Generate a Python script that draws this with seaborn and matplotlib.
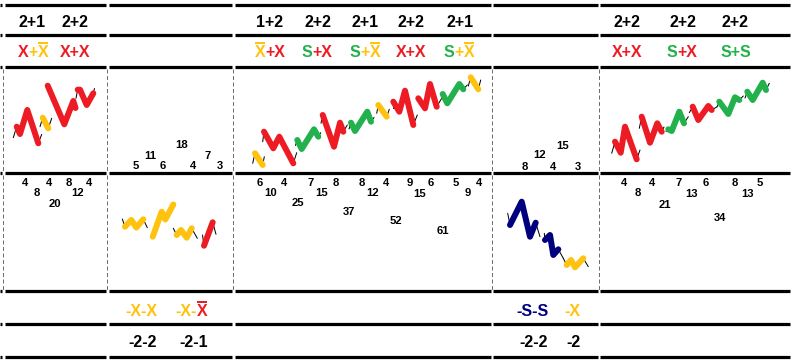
import matplotlib
matplotlib.use("Agg")
import matplotlib.pyplot as plt
import seaborn as sns
import pandas as pd

sns.set_theme(style="white")
plt.rcParams["font.family"] = ["Liberation Sans", "DejaVu Sans"]

RED = "#ED1C24"
YEL = "#FFC20E"
GRN = "#22B14C"
NAVY = "#00007F"
BLK = "#000000"

# ---------------- data ----------------
# wave shapes (pixel-space readings from the picture)
wave_colors = [
    RED, YEL, RED, RED,                      # column 1, upper
    YEL, YEL, YEL, RED,                      # column 2, lower
    YEL, RED, GRN, RED, GRN, YEL, RED, RED, GRN, YEL,   # column 3, upper
    NAVY, NAVY, YEL,                         # column 4, lower
    RED, RED, GRN, RED, GRN, GRN,            # column 5, upper
]
wave_x = [
    [16.7, 20.0, 27.3, 38.3], [42.7, 48.3], [47.7, 64.3, 73.3, 75.5], [77.7, 80.0, 86.7, 93.3],
    [125.0, 131.3, 136.3, 143.3], [152.7, 161.7, 165.3, 173.3], [176.7, 181.0, 186.7, 191.7], [204.0, 212.7],
    [255.0, 262.7], [264.0, 273.3, 279.3, 293.3], [297.3, 301.7, 314.0, 318.3],
    [322.7, 334.0, 340.0, 343.3], [351.0, 355.0, 367.3, 371.0], [378.3, 386.7],
    [393.3, 399.3, 405.0, 413.3], [418.3, 425.0, 430.0, 436.7], [442.7, 447.3, 459.3, 463.3], [470.7, 478.3],
    [510.0, 521.7, 530.0, 535.7], [545.0, 550.0, 553.3, 558.3], [566.7, 571.0, 575.0, 583.3],
    [615.0, 620.7, 625.0, 636.7], [641.7, 650.0, 657.3, 661.7], [668.3, 671.7, 679.3, 684.0],
    [692.7, 698.3, 708.3, 711.7], [719.3, 728.3, 735.0, 739.3], [747.3, 752.7, 762.7, 766.0],
]
wave_y = [
    [126.7, 134.0, 110.0, 143.3], [117.7, 128.3], [85.7, 124.3, 101.0, 108.0], [89.7, 89.7, 105.0, 93.3],
    [226.7, 220.0, 227.5, 219.3], [236.7, 211.7, 219.5, 204.5], [235.0, 230.0, 237.7, 228.3], [245.7, 222.3],
    [153.3, 165.0], [131.7, 148.3, 136.7, 163.3], [140.0, 149.0, 129.3, 136.7],
    [115.0, 146.7, 122.7, 131.7], [122.7, 131.0, 111.7, 121.7], [105.0, 116.7],
    [101.7, 111.7, 90.7, 125.0], [98.3, 108.3, 84.0, 106.7], [94.0, 103.3, 84.0, 89.3], [77.3, 89.3],
    [225.0, 201.7, 236.7, 222.7], [240.0, 235.0, 255.0, 249.3], [265.0, 260.0, 267.3, 258.3],
    [141.7, 152.7, 126.7, 159.3], [116.7, 142.7, 123.3, 131.7], [129.3, 131.0, 111.7, 123.3],
    [106.7, 120.0, 106.0, 110.0], [101.7, 114.0, 97.3, 100.0], [91.7, 100.0, 82.7, 90.0],
]
tail_in = [
    (13.3, 137.7), (40.0, 126.7), None, (76.0, 98.3),
    (122.3, 219.0), None, (173.3, 228.3), (202.5, 235.0),
    (252.7, 163.3), (262.7, 141.7), (295.5, 145.5), (321.0, 123.3), (349.0, 129.0), (376.7, 113.3),
    (393.3, 108.3), None, None, (468.3, 86.0),
    (507.7, 213.3), (544.3, 233.3), (563.3, 258.3),
    (611.7, 153.3), (639.3, 128.3), (666.0, 131.5), (689.3, 112.7), (717.0, 107.0), (745.0, 98.0),
]
tail_out = [
    (41.7, 134.3), (51.7, 118.3), None, (94.5, 88.5),
    (147.3, 227.7), None, (197.3, 238.3), (216.0, 234.3),
    (264.3, 156.7), (296.7, 152.7), (320.7, 132.7), (347.3, 125.0), (374.0, 117.5), (389.3, 109.3),
    (417.3, 115.0), (441.7, 98.3), (467.3, 85.0), (480.7, 80.0),
    (540.0, 236.7), (563.3, 258.3), (588.3, 266.7),
    (640.0, 150.0), (664.0, 127.0), (688.3, 116.7), (716.7, 107.0), (743.3, 96.0), (769.3, 83.3),
]

# count labels
count_text = ["5", "11", "6", "18", "4", "7", "3",
              "4", "8", "4", "20", "8", "12", "4",
              "6", "10", "4", "25", "7", "15", "8", "37", "8", "12", "4", "52", "9", "15", "6", "61", "5", "9", "4",
              "8", "12", "4", "15", "3",
              "4", "8", "4", "21", "7", "13", "6", "34", "8", "13", "5"]
count_x = [136, 150, 163, 182, 193, 208, 220,
           25, 37, 49, 55, 69, 78, 89,
           260, 271, 284, 298, 311, 322, 336, 349, 362, 373, 386, 396, 410, 420, 431, 443, 456, 468, 479,
           525, 540, 553, 563, 578,
           624, 638, 652, 665, 679, 692, 706, 720, 735, 747, 760]
count_y = [165, 155, 165, 144, 165, 155, 165,
           182, 192, 182, 203, 182, 192, 182,
           182, 192, 182, 202, 182, 192, 182, 211, 182, 192, 182, 220, 182, 193, 182, 230, 182, 192, 182,
           166, 154, 166, 145, 166,
           182, 192, 182, 204, 182, 193, 182, 217, 182, 193, 182]

# header labels
top_text = ["2+1", "2+2", "1+2", "2+2", "2+1", "2+2", "2+1", "2+2", "2+2", "2+2"]
top_x = [32.2, 74.5, 269.7, 317.8, 365.5, 411.3, 459.7, 627.5, 683.3, 735.5]

bottom_text = ["-2-2", "-2-1", "-2-2", "-2"]
bottom_x = [142.3, 193.3, 533.3, 573.3]

# coloured pattern labels: pieces of (text, colour, overline)
pattern_top = [
    [("X", RED, False), ("+", YEL, False), ("X", YEL, True)],
    [("X+X", RED, False)],
    [("X", YEL, True), ("+X", RED, False)],
    [("S", GRN, False), ("+X", RED, False)],
    [("S", GRN, False), ("+", YEL, False), ("X", YEL, True)],
    [("X+X", RED, False)],
    [("S", GRN, False), ("+", YEL, False), ("X", YEL, True)],
    [("X+X", RED, False)],
    [("S", GRN, False), ("+X", RED, False)],
    [("S+S", GRN, False)],
]
pattern_top_x = [32.8, 75.0, 270.0, 317.2, 365.0, 411.3, 459.2, 626.7, 682.0, 735.5]

pattern_bottom = [
    [("-X-X", YEL, False)],
    [("-X-", YEL, False), ("X", RED, True)],
    [("-S-S", NAVY, False)],
    [("-X", YEL, False)],
]
pattern_bottom_x = [141.7, 191.5, 532.5, 572.8]

# ---------------- figure ----------------
W, H = 794, 361
fig = plt.figure(figsize=(W / 100, H / 100), dpi=100)
ax = fig.add_axes([0, 0, 1, 1])

PX = 72 / 100  # points per pixel

# grid: heavy rules and dashed column separators
col_edges = [3, 107, 233, 491.5, 598.5]
rule_y = [4.5, 35, 67, 173, 291, 324, 356.5]
seg_bounds = [(0, 1.5), (4.5, 106), (108.5, 232), (234.5, 490.5), (493, 597.5), (600, 790)]
for ry in rule_y:
    for a, b in seg_bounds:
        ax.plot([a, b], [ry, ry], color=BLK, lw=3.2 * PX, solid_capstyle="butt", zorder=3)
for cx in col_edges:
    for y0, y1 in [(68.5, 171.5), (174.5, 289.5)]:
        ax.plot([cx, cx], [y0, y1], color="#6F6F6F", lw=1 * PX,
                linestyle=(0, (4, 2.5)), zorder=2)

# waves
for c, xs, ys, tin, tout in zip(wave_colors, wave_x, wave_y, tail_in, tail_out):
    if tin is not None:
        ax.plot([tin[0], xs[0]], [tin[1], ys[0]], color=BLK, lw=1.0 * PX, zorder=4)
    if tout is not None:
        ax.plot([xs[-1], tout[0]], [ys[-1], tout[1]], color=BLK, lw=1.0 * PX, zorder=4)
    df = pd.DataFrame({"x": xs, "y": ys})
    sns.lineplot(data=df, x="x", y="y", sort=False, estimator=None, color=c,
                 lw=6.0 * PX, ax=ax, zorder=5,
                 solid_capstyle="round", solid_joinstyle="round")

BIG = 16 * PX
SMALL = 11.2 * PX

renderer = fig.canvas.get_renderer()


def pieces_text(xc, baseline, pieces, size):
    items = []
    total = 0.0
    for s, c, ov in pieces:
        t = ax.text(0, baseline, s, color=c, fontsize=size, fontweight="bold",
                    ha="left", va="baseline", zorder=6)
        w = t.get_window_extent(renderer).width
        items.append((t, w, ov, c))
        total += w
    x = xc - total / 2
    cap = 0.716 * size / PX
    for t, w, ov, c in items:
        t.set_x(x)
        if ov:
            yl = baseline - cap - 2.5
            ax.plot([x + 0.3, x + w - 0.3], [yl, yl], color=c, lw=2 * PX,
                    solid_capstyle="butt", zorder=6)
        x += w


for s, x in zip(top_text, top_x):
    ax.text(x, 26.7, s, fontsize=BIG, fontweight="bold", color=BLK,
            ha="center", va="baseline", zorder=6)
for s, x in zip(bottom_text, bottom_x):
    ax.text(x, 346.7, s, fontsize=BIG, fontweight="bold", color=BLK,
            ha="center", va="baseline", zorder=6)
for p, x in zip(pattern_top, pattern_top_x):
    pieces_text(x, 57.3, p, BIG)
for p, x in zip(pattern_bottom, pattern_bottom_x):
    pieces_text(x, 315.6, p, BIG)

cap_small = 0.716 * 11.2
for s, x, y in zip(count_text, count_x, count_y):
    ax.text(x, y + cap_small / 2, s, fontsize=SMALL, fontweight="bold", color=BLK,
            ha="center", va="baseline", zorder=6)

ax.set_xlim(0, W)
ax.set_ylim(H, 0)
ax.axis("off")
fig.savefig("out.png", dpi=100)
